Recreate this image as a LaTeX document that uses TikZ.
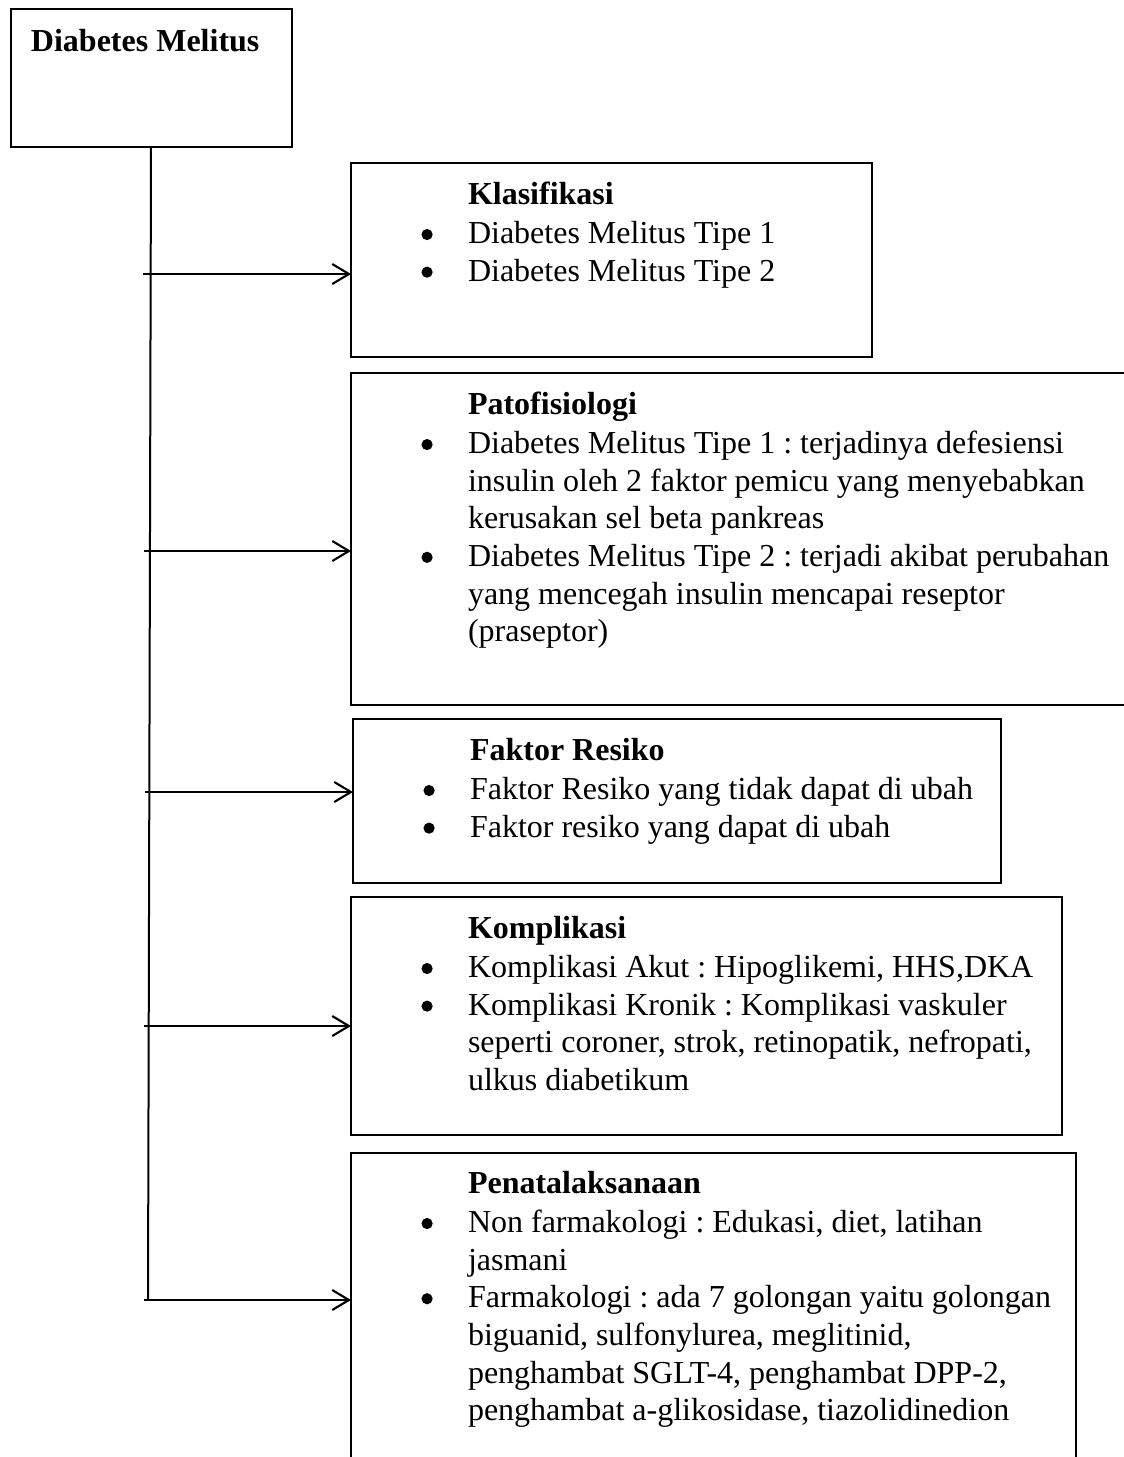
\documentclass[tikz,border=0pt]{standalone}
\usepackage{fontspec}
\setmainfont{Liberation Serif}
\usetikzlibrary{arrows.meta}
\newcommand\bdot{\tikz[baseline=0pt]\fill[black] (0pt,6.8pt) circle[radius=4.2pt];}
\newcommand\bul{\par\noindent\llap{\bdot\hspace{26.5pt}}}
\newcommand\ttl[1]{\textbf{#1}\par\vspace{1.5pt}}
\newcommand\txtblock[1]{\begin{minipage}[t]{560pt}\fontsize{24}{28.2}\selectfont\frenchspacing\parindent=0pt\parskip=0pt #1\end{minipage}}
\tikzset{
  box/.style={draw, line width=1.5pt, anchor=north west, inner sep=0pt, outer sep=0pt, fill=none},
  txt/.style={anchor=base west, inner sep=0pt, outer sep=0pt},
  arr/.style={line width=1.7pt, -{Straight Barb[length=12.5pt, width=15pt, line width=1.6pt]}},
  trunk/.style={line width=1.5pt}
}
\begin{document}
\begin{tikzpicture}[x=0.75pt, y=-0.75pt]
\useasboundingbox (0,0) rectangle (1124,1457);
\clip (0,0) rectangle (1124,1457);
\fill[white] (0,0) rectangle (1124,1457);

% main box
\node[box, minimum width=281*0.75pt, minimum height=138*0.75pt] (dm) at (10.5,9) {};
\node[txt] (dmt) at (31,51) {\fontsize{24}{28}\selectfont\bfseries Diabetes Melitus};

% sub boxes
\node[box, minimum width=521*0.75pt, minimum height=194*0.75pt] (k) at (351,163) {};
\node[box, minimum width=820*0.75pt, minimum height=332*0.75pt] (p) at (351,373) {};
\node[box, minimum width=648*0.75pt, minimum height=164*0.75pt] (f) at (353,719) {};
\node[box, minimum width=711*0.75pt, minimum height=238*0.75pt] (c) at (351,897) {};
\node[box, minimum width=725*0.75pt, minimum height=400*0.75pt] (n) at (351,1153) {};

% texts
\node[txt] (kt) at (468,204) {\txtblock{\ttl{Klasifikasi}
\bul Diabetes Melitus Tipe 1
\bul Diabetes Melitus Tipe 2}};

\node[txt] (pt) at (468,414) {\txtblock{\ttl{Patofisiologi}
\bul Diabetes Melitus Tipe 1 : terjadinya defesiensi\\
insulin oleh 2 faktor pemicu yang menyebabkan\\
kerusakan sel beta pankreas
\bul Diabetes Melitus Tipe 2 : terjadi akibat perubahan\\
yang mencegah insulin mencapai reseptor\\
(praseptor)}};

\node[txt] (ft) at (470,760) {\txtblock{\ttl{Faktor Resiko}
\bul Faktor Resiko yang tidak dapat di ubah
\bul Faktor resiko yang dapat di ubah}};

\node[txt] (ct) at (468,938) {\txtblock{\ttl{Komplikasi}
\bul Komplikasi Akut : Hipoglikemi, HHS,DKA
\bul Komplikasi Kronik : Komplikasi vaskuler\\
seperti coroner, strok, retinopatik, nefropati,\\
ulkus diabetikum}};

\node[txt] (nt) at (468,1193) {\txtblock{\ttl{Penatalaksanaan}
\bul Non farmakologi : Edukasi, diet, latihan\\
jasmani
\bul Farmakologi : ada 7 golongan yaitu golongan\\
biguanid, sulfonylurea, meglitinid,\\
penghambat SGLT-4, penghambat DPP-2,\\
penghambat a-glikosidase, tiazolidinedion}};

% trunk and arrows
\coordinate (vend) at (148,1300);
\coordinate (a1) at (143,274);
\coordinate (a2) at (144,551);
\coordinate (a3) at (145,792);
\coordinate (a4) at (144,1026);
\coordinate (a5) at (144,1300);
\draw[trunk] (dm.south) -- (vend);
\draw[arr] (a1) -- (a1 -| k.west);
\draw[arr] (a2) -- (a2 -| p.west);
\draw[arr] (a3) -- (a3 -| f.west);
\draw[arr] (a4) -- (a4 -| c.west);
\draw[arr] (a5) -- (a5 -| n.west);
\end{tikzpicture}
\end{document}
